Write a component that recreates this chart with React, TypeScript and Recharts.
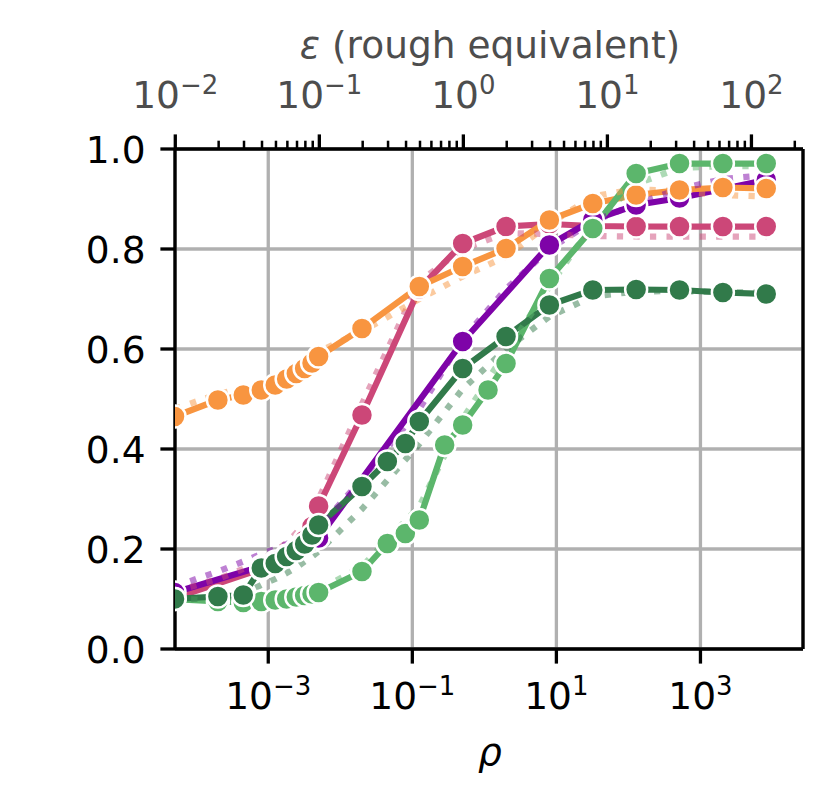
import { LineChart, Line, XAxis, YAxis, CartesianGrid } from "recharts";

// rho grids
const rhoMain = [5e-5, 2e-4, 4.5e-4, 8e-4, 1.25e-3, 1.8e-3, 2.45e-3, 3.2e-3, 4.05e-3, 5e-3, 0.02, 0.125, 0.5, 2, 8, 32, 128, 512, 2048, 8192];
const rhoPink = [5e-5, 8e-4, 1.25e-3, 1.8e-3, 2.45e-3, 3.2e-3, 4.05e-3, 5e-3, 0.02, 0.125, 0.5, 2, 8, 32, 128, 512, 2048, 8192];
const rhoPurple = [5e-5, 8e-4, 1.25e-3, 1.8e-3, 2.45e-3, 3.2e-3, 4.05e-3, 5e-3, 0.5, 8, 32, 128, 512, 2048, 8192];
const rhoDarkGreen = [5e-5, 2e-4, 4.5e-4, 8e-4, 1.25e-3, 1.8e-3, 2.45e-3, 3.2e-3, 4.05e-3, 5e-3, 0.02, 0.045, 0.08, 0.125, 0.5, 2, 8, 32, 128, 512, 2048, 8192];
const rhoLightGreen = [5e-5, 2e-4, 4.5e-4, 8e-4, 1.25e-3, 1.8e-3, 2.45e-3, 3.2e-3, 4.05e-3, 5e-3, 0.02, 0.045, 0.08, 0.125, 0.28125, 0.5, 1.125, 2, 8, 32, 128, 512, 2048, 8192];

// accuracy, marker series
const pinkAcc = [0.102, 0.16, 0.172, 0.186, 0.2, 0.218, 0.245, 0.286, 0.468, 0.72, 0.811, 0.845, 0.85, 0.846, 0.845, 0.845, 0.845, 0.845];
const purpleAcc = [0.113, 0.165, 0.175, 0.187, 0.198, 0.208, 0.216, 0.222, 0.615, 0.808, 0.858, 0.888, 0.902, 0.92, 0.938];
const orangeAcc = [0.465, 0.498, 0.508, 0.518, 0.528, 0.54, 0.551, 0.561, 0.572, 0.585, 0.641, 0.725, 0.765, 0.801, 0.858, 0.891, 0.908, 0.918, 0.923, 0.921];
const lightGreenAcc = [0.1, 0.095, 0.093, 0.095, 0.098, 0.1, 0.104, 0.107, 0.11, 0.113, 0.155, 0.211, 0.231, 0.258, 0.408, 0.448, 0.518, 0.571, 0.741, 0.841, 0.951, 0.971, 0.971, 0.971];
const darkGreenAcc = [0.1, 0.105, 0.108, 0.162, 0.171, 0.185, 0.197, 0.21, 0.228, 0.248, 0.325, 0.375, 0.411, 0.455, 0.561, 0.625, 0.688, 0.718, 0.719, 0.718, 0.713, 0.71];

// accuracy, dotted companions (on rhoMain)
const pinkDot = [0.115, 0.14, 0.16, 0.178, 0.195, 0.212, 0.232, 0.252, 0.272, 0.3, 0.49, 0.735, 0.8, 0.832, 0.83, 0.826, 0.825, 0.825, 0.825, 0.825];
const purpleDot = [0.125, 0.155, 0.175, 0.19, 0.2, 0.21, 0.218, 0.226, 0.234, 0.242, 0.34, 0.48, 0.62, 0.72, 0.8, 0.855, 0.89, 0.92, 0.94, 0.948];
const orangeDot = [0.48, 0.51, 0.522, 0.533, 0.543, 0.553, 0.563, 0.573, 0.583, 0.595, 0.635, 0.7, 0.745, 0.785, 0.85, 0.905, 0.92, 0.915, 0.908, 0.905];
const lightGreenDot = [0.1, 0.098, 0.097, 0.098, 0.1, 0.102, 0.105, 0.108, 0.112, 0.118, 0.165, 0.285, 0.46, 0.595, 0.725, 0.85, 0.93, 0.962, 0.966, 0.966];
const darkGreenDot = [0.098, 0.103, 0.11, 0.128, 0.14, 0.152, 0.163, 0.175, 0.185, 0.195, 0.28, 0.41, 0.52, 0.6, 0.665, 0.705, 0.715, 0.716, 0.714, 0.712];

// ticks
const rhoTicks = [1e-3, 1e-1, 1e1, 1e3];
const epsMajor = [0.01, 0.1, 1, 10, 100];
const epsTicks = [0.01, 0.02, 0.03, 0.04, 0.05, 0.06, 0.07, 0.08, 0.09, 0.1, 0.2, 0.3, 0.4, 0.5, 0.6, 0.7, 0.8, 0.9, 1, 2, 3, 4, 5, 6, 7, 8, 9, 10, 20, 30, 40, 50, 60, 70, 80, 90, 100, 200];
const accTicks = [0, 0.2, 0.4, 0.6, 0.8, 1.0];

const PINK = "#cc4778";
const PURPLE = "#7e03a8";
const ORANGE = "#f89540";
const LGREEN = "#5cb66c";
const DGREEN = "#317a4a";

const FONT = "DejaVu Sans";
const FS = 37.5;
const SUP = 26;
const LW = 6.25;

// plot box (for clipping the markers at the left edge)
const PLOT = { x: 175, y: 149, w: 628.3, h: 500 };

const pts = (rho: number[], acc: number[]) => rho.map((r, i) => ({ rho: r, acc: acc[i] }));

const expLabel = (v: number) => {
  const e = Math.round(Math.log10(v));
  return e < 0 ? "\u2212" + Math.abs(e) : String(e);
};

function BottomTick(props: any) {
  const { x, y, payload } = props;
  return (
    <g>
      <line x1={x} x2={x} y1={y} y2={y + 14.6} stroke="#000" strokeWidth={3.3} />
      <text x={x} y={y + 60} textAnchor="middle" fontSize={FS} fontFamily={FONT} fill="#000">
        10<tspan dy={-14} fontSize={SUP}>{expLabel(payload.value)}</tspan>
      </text>
    </g>
  );
}

function TopTick(props: any) {
  const { x, y, payload } = props;
  const major = epsMajor.includes(payload.value);
  if (!major) {
    return <line x1={x} x2={x} y1={y} y2={y - 8.3} stroke="#000" strokeWidth={2.5} />;
  }
  return (
    <g>
      <line x1={x} x2={x} y1={y} y2={y - 14.6} stroke="#000" strokeWidth={3.3} />
      <text x={x} y={y - 41} textAnchor="middle" fontSize={FS} fontFamily={FONT} fill="#4d4d4d">
        10<tspan dy={-14} fontSize={SUP}>{expLabel(payload.value)}</tspan>
      </text>
    </g>
  );
}

function LeftTick(props: any) {
  const { x, y, payload } = props;
  return (
    <g>
      <line x1={x} x2={x - 14.6} y1={y} y2={y} stroke="#000" strokeWidth={3.3} />
      <text x={x - 29.5} y={y + 13.5} textAnchor="end" fontSize={FS} fontFamily={FONT} fill="#000">
        {payload.value.toFixed(1)}
      </text>
    </g>
  );
}

const makeDot = (color: string) => (props: any) => {
  const { cx, cy, index } = props;
  if (cx == null || cy == null) return <g key={index} />;
  return (
    <circle key={index} cx={cx} cy={cy} r={11} fill={color} stroke="#fff" strokeWidth={2.5} clipPath="url(#plotClip)" />
  );
};

export default function App() {
  const markerLine = (key: string, color: string, rho: number[], acc: number[]) => (
    <Line
      key={key}
      xAxisId="bottom"
      yAxisId="left"
      data={pts(rho, acc)}
      dataKey="acc"
      type="linear"
      stroke={color}
      strokeWidth={LW}
      strokeLinejoin="round"
      dot={makeDot(color)}
      activeDot={false}
      isAnimationActive={false}
    />
  );
  const dottedLine = (key: string, color: string, acc: number[]) => (
    <Line
      key={key}
      xAxisId="bottom"
      yAxisId="left"
      data={pts(rhoMain, acc)}
      dataKey="acc"
      type="linear"
      stroke={color}
      strokeOpacity={0.5}
      strokeWidth={LW}
      strokeDasharray="6.25 10.3"
      dot={false}
      activeDot={false}
      isAnimationActive={false}
    />
  );

  return (
    <div style={{ position: "absolute", left: 0, top: 0, width: 832, height: 805, background: "#fff" }}>
      <LineChart width={832} height={805} margin={{ top: 49, right: 28, bottom: 56, left: 75 }}>
        <defs>
          <clipPath id="plotClip">
            <rect x={PLOT.x} y={PLOT.y - 20} width={PLOT.w} height={PLOT.h + 40} />
          </clipPath>
        </defs>
        <CartesianGrid xAxisId="bottom" yAxisId="left" stroke="#b0b0b0" strokeWidth={3.3} />
        {markerLine("pink", PINK, rhoPink, pinkAcc)}
        {markerLine("purple", PURPLE, rhoPurple, purpleAcc)}
        {markerLine("orange", ORANGE, rhoMain, orangeAcc)}
        {markerLine("lgreen", LGREEN, rhoLightGreen, lightGreenAcc)}
        {markerLine("dgreen", DGREEN, rhoDarkGreen, darkGreenAcc)}
        {dottedLine("pinkDot", PINK, pinkDot)}
        {dottedLine("purpleDot", PURPLE, purpleDot)}
        {dottedLine("orangeDot", ORANGE, orangeDot)}
        {dottedLine("lgreenDot", LGREEN, lightGreenDot)}
        {dottedLine("dgreenDot", DGREEN, darkGreenDot)}
        {/* carries the epsilon axis, draws nothing */}
        <Line
          xAxisId="top"
          yAxisId="left"
          data={epsMajor.map((e) => ({ eps: e, acc: 0.5 }))}
          dataKey="acc"
          stroke="none"
          dot={false}
          activeDot={false}
          isAnimationActive={false}
        />
        <XAxis
          xAxisId="bottom"
          orientation="bottom"
          dataKey="rho"
          type="number"
          scale="log"
          domain={[Math.pow(10, -4.2946), Math.pow(10, 4.4236)]}
          allowDataOverflow
          ticks={rhoTicks}
          interval={0}
          height={100}
          tickSize={0}
          tickMargin={0}
          tickLine={false}
          axisLine={{ stroke: "#000", strokeWidth: 3.3 }}
          tick={<BottomTick />}
        />
        <XAxis
          xAxisId="top"
          orientation="top"
          dataKey="eps"
          type="number"
          scale="log"
          domain={[Math.pow(10, -2.002), Math.pow(10, 2.358)]}
          allowDataOverflow
          ticks={epsTicks}
          interval={0}
          height={100}
          tickSize={0}
          tickMargin={0}
          tickLine={false}
          axisLine={{ stroke: "#000", strokeWidth: 3.3 }}
          tick={<TopTick />}
        />
        <YAxis
          yAxisId="left"
          type="number"
          domain={[0, 1]}
          ticks={accTicks}
          interval={0}
          width={100}
          tickSize={0}
          tickMargin={0}
          tickLine={false}
          axisLine={{ stroke: "#000", strokeWidth: 3.3 }}
          tick={<LeftTick />}
        />
        <YAxis
          yAxisId="right"
          orientation="right"
          type="number"
          domain={[0, 1]}
          width={1}
          tick={false}
          tickLine={false}
          axisLine={{ stroke: "#000", strokeWidth: 3.3 }}
        />
      </LineChart>
      <svg width={832} height={805} style={{ position: "absolute", left: 0, top: 0, pointerEvents: "none" }}>
        <text x={490} y={58} textAnchor="middle" fontSize={FS} fontFamily={FONT} fill="#4d4d4d">
          <tspan fontStyle="italic">ε</tspan> (rough equivalent)
        </text>
        <text x={490} y={765} textAnchor="middle" fontSize={FS} fontFamily={FONT} fontStyle="italic" fill="#000">
          ρ
        </text>
      </svg>
    </div>
  );
}
